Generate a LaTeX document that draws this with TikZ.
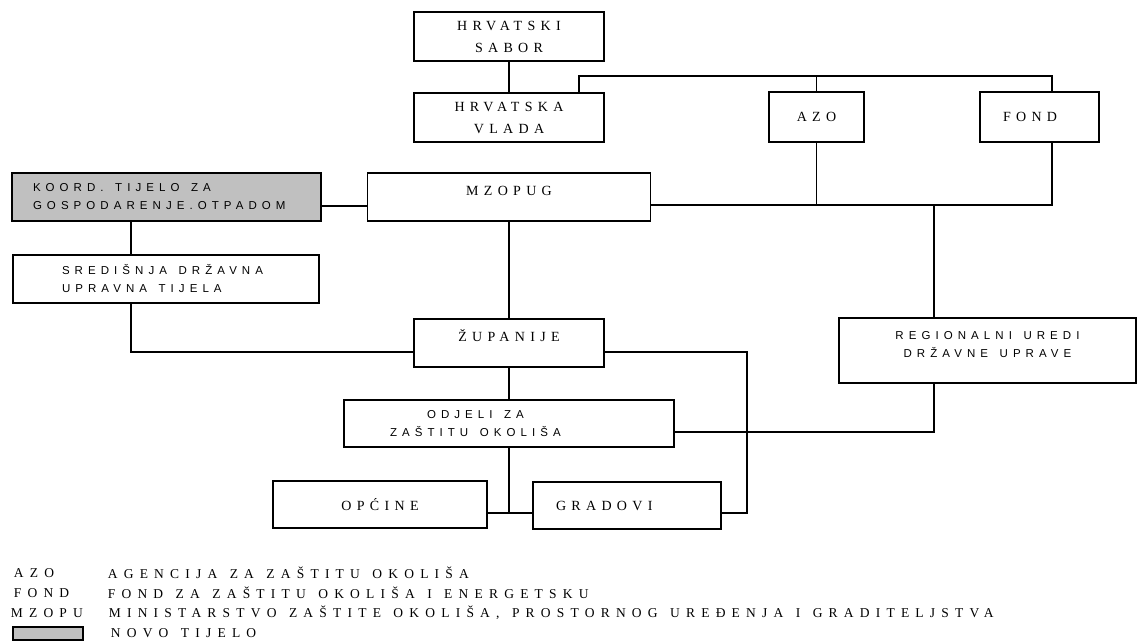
\documentclass[tikz,border=0pt]{standalone}
\usepackage{fontspec}
\setmainfont{Liberation Serif}
\newfontfamily\serifsp[LetterSpace=38]{Liberation Serif}
\newfontfamily\legendsp[LetterSpace=46,WordSpace=1.3]{Liberation Serif}
\newfontfamily\sanssp[LetterSpace=44,WordSpace=1.4]{Liberation Sans}
\definecolor{novo}{RGB}{192,192,192}

\begin{document}
\begin{tikzpicture}[x=1pt,y=-1pt,line width=1.7pt,
    box/.style={draw,rectangle,inner sep=0pt,align=center},
    lbl/.style={font=\serifsp\fontsize{14}{22}\selectfont},
    slbl/.style={font=\sanssp\fontsize{11.5}{18}\selectfont},
    raised/.style={text height=9pt,text depth=13pt},
    legend/.style={anchor=west,inner sep=0pt,font=\legendsp\fontsize{13.5}{14}\selectfont}]
    \useasboundingbox (0,0) rectangle (1137,642);

    % upper level
    \node[box,lbl,minimum width=190pt,minimum height=49pt] (sabor) at (509,36.5) {HRVATSKI\\SABOR};
    \node[box,lbl,minimum width=190pt,minimum height=49pt] (vlada) at (509,117.5) {HRVATSKA\\VLADA};
    \node[box,lbl,minimum width=95pt,minimum height=50pt] (azo) at (816.5,117) {AZO};
    \node[box,lbl,minimum width=119pt,minimum height=50pt] (fond) at (1039.5,117) {\makebox[73pt][l]{FOND}};

    % ministry row
    \node[box,slbl,fill=novo,minimum width=309pt,minimum height=48pt,align=left] (koord) at (166.5,197) {\makebox[267pt][l]{KOORD. TIJELO ZA}\\GOSPODARENJE.OTPADOM};
    \node[box,lbl,raised,minimum width=283pt,minimum height=48pt] (mzopug) at (509,197) {MZOPUG};
    \node[box,slbl,minimum width=306pt,minimum height=48pt,align=left] (sred) at (166,279) {\makebox[208pt][l]{SREDIŠNJA DRŽAVNA}\\UPRAVNA TIJELA};

    % regional and local level
    \node[box,lbl,raised,minimum width=190pt,minimum height=48pt] (zup) at (509,343) {ŽUPANIJE};
    \node[box,slbl,text depth=13pt,minimum width=297pt,minimum height=65pt] (reg) at (987.5,350.5) {REGIONALNI UREDI\\DRŽAVNE UPRAVE};
    \node[box,slbl,minimum width=330pt,minimum height=47pt,align=left] (odjeli) at (509,423.5) {\makebox[238pt][l]{\hspace*{37pt}ODJELI ZA}\\ZAŠTITU OKOLIŠA};
    \node[box,lbl,minimum width=214pt,minimum height=47pt] (opcine) at (380,504.5) {OPĆINE};
    \node[box,lbl,minimum width=188pt,minimum height=47pt] (gradovi) at (627,505.5) {\makebox[142pt][l]{GRADOVI}};

    \coordinate (topbar) at (1052,76);
    \coordinate (midbar) at (1052,205);
    \coordinate (regjoin) at (934,205);
    \coordinate (rightbar) at (747,513);

    \draw (sabor) -- (vlada);
    \draw ([xshift=70pt]vlada.north) |- (topbar) -- (topbar |- fond.north);
    \draw (azo.north) -- (azo.north |- topbar);
    \draw (topbar |- fond.south) -- (midbar) -- ([yshift=-8pt]mzopug.east);
    \draw (azo.south) -- (azo.south |- midbar);
    \draw ([yshift=-9pt]koord.east) -- ([yshift=-9pt]mzopug.west);
    \draw (regjoin) -- (regjoin |- reg.north);
    \draw (regjoin |- reg.south) |- ([yshift=-8.5pt]odjeli.east);
    \draw ([xshift=-35.5pt]koord.south) -- ([xshift=-35pt]sred.north);
    \draw ([xshift=-35pt]sred.south) |- ([yshift=-9pt]zup.west);
    \draw (mzopug) -- (zup);
    \draw ([yshift=-9pt]zup.east) -| (rightbar) -- (rightbar -| gradovi.east);
    \draw (zup) -- (odjeli);
    \draw (odjeli.south) -- (odjeli.south |- rightbar);
    \draw ([yshift=-8.5pt]opcine.east) -- ([yshift=-7.5pt]gradovi.west);

    % legend
    \node[legend] (kazo) at (13,573) {AZO};
    \node[legend] (kfond) at (13,593) {FOND};
    \node[legend] (kmzopu) at (10,613) {MZOPU};
    \node[draw,fill=novo,line width=1.2pt,minimum width=70pt,minimum height=13pt,inner sep=0pt] (knovo) at (48,633.5) {};
    \node[legend] (dazo) at (107,573) {AGENCIJA ZA ZAŠTITU OKOLIŠA};
    \node[legend] (dfond) at (107,593) {FOND ZA ZAŠTITU OKOLIŠA I ENERGETSKU};
    \node[legend] (dmzopu) at (108,613) {MINISTARSTVO ZAŠTITE OKOLIŠA, PROSTORNOG UREĐENJA I GRADITELJSTVA};
    \node[legend] (dnovo) at (110,633) {NOVO TIJELO};
\end{tikzpicture}
\end{document}
